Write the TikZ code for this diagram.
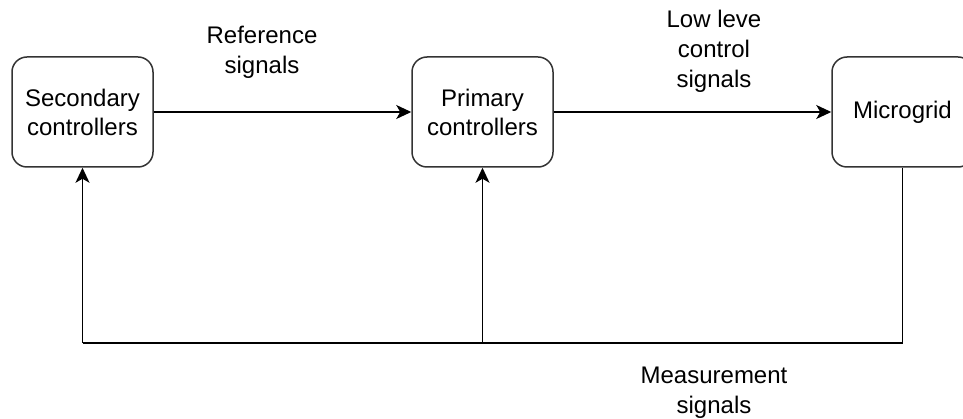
\documentclass[tikz,border=0pt]{standalone}
\usepackage{fontspec}
\setmainfont{Liberation Sans}
\usetikzlibrary{arrows.meta}
\begin{document}
\begin{tikzpicture}[x=1pt,y=-1pt,
  blockbox/.style={draw=black!80,line width=1.5pt,rounded corners=15pt,minimum width=141pt,minimum height=110pt,inner sep=0pt,align=center,font=\fontsize{24}{29}\selectfont,fill=white},
  lbl/.style={align=center,font=\fontsize{24}{30}\selectfont,inner sep=0pt},
  conn/.style={line width=1.5pt,draw=black},
  arr/.style={conn,-{Stealth[length=15pt,width=14pt,inset=4pt]}}]
\useasboundingbox (0,0) rectangle (963,419);
\begin{scope}
\clip (0,0) rectangle (963,419);
\node[blockbox] (sec) at (82.5,112) {Secondary\\controllers};
\node[blockbox] (pri) at (482.5,112) {Primary\\controllers};
\node[blockbox] (mg) at (902.5,112) {Microgrid};
\end{scope}
\coordinate (bl) at (82.5,343);
\coordinate (bm) at (482.5,343);
\coordinate (br) at (902.5,343);
\draw[arr] (sec.east) -- (pri.west);
\draw[arr] (pri.east) -- (mg.west);
\draw[conn] (mg.south) -- (br) -- (bl);
\draw[arr] (bl) -- (sec.south);
\draw[arr] (bm) -- (pri.south);
\node[lbl] (ref) at (262,52) {Reference\\signals};
\node[lbl] (low) at (714,51) {Low leve\\control\\signals};
\node[lbl] (meas) at (714,393) {Measurement\\signals};
\end{tikzpicture}
\end{document}
